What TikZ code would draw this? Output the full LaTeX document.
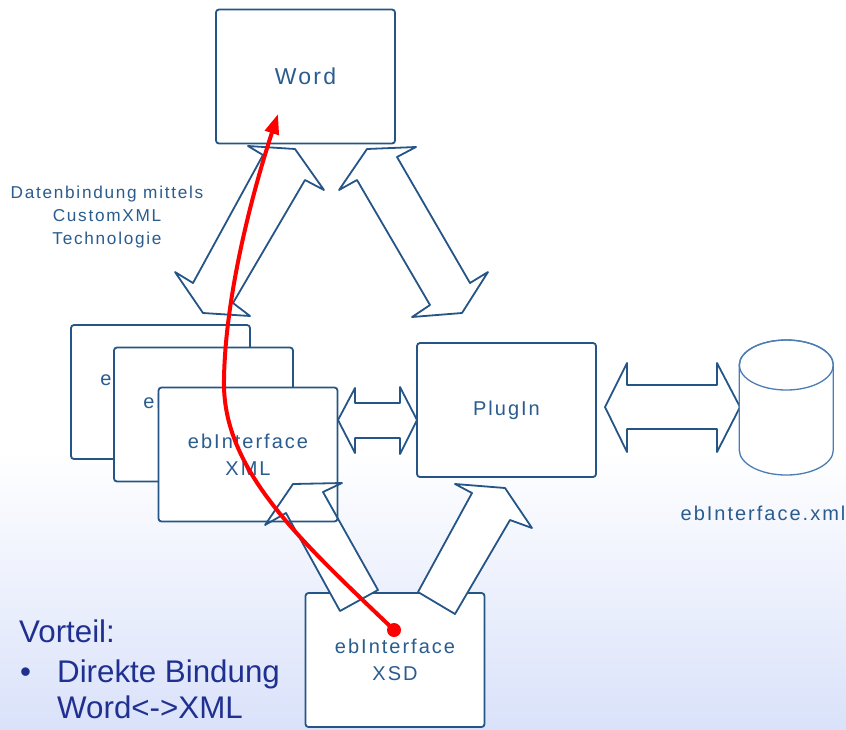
\documentclass[tikz,border=0pt]{standalone}
\usepackage{fontspec}
\setmainfont{Liberation Sans}
\newfontfamily\labfont[LetterSpace=10]{Liberation Sans}
\usetikzlibrary{arrows.meta}
\definecolor{lc}{RGB}{37,85,135}
\definecolor{tc}{RGB}{42,92,142}
\definecolor{cylc}{RGB}{75,125,180}
\definecolor{bgb}{RGB}{218,226,250}
\definecolor{vt}{RGB}{32,48,145}
\newcommand\xsdArrowL{(378,590) -- (340,611) -- (286,513) -- (265,525) -- (293,484) -- (342,483) -- (323,492) -- cycle}
\newcommand\xsdArrowR{(418,592) -- (455,614) -- (510,520) -- (532,528) -- (505,488) -- (455,484) -- (472,493) -- cycle}
\begin{document}
\begin{tikzpicture}[x=1pt,y=-1pt,
  box/.style={draw=lc, fill=white, line width=1.8pt, minimum width=179pt, minimum height=134pt,
    inner sep=0pt, align=center, text=tc, font=\labfont\fontsize{20}{27}\selectfont, rounded corners=3pt},
  blockarrow/.style={draw=lc, fill=white, line width=1.8pt, line join=round},
  lab/.style={text=tc, align=center, inner sep=0pt},
  adv/.style={text=vt, anchor=base west, inner sep=0pt, font=\fontsize{31.3}{37}\selectfont},
  redline/.style={draw=red, line width=4pt, -{Triangle[length=20pt,width=14pt]}}]
\useasboundingbox (0,0) rectangle (846,729);
\fill[white] (0,0) rectangle (846,729);
\shade[top color=white, bottom color=bgb] (0,450) rectangle (846,729);

% Word
\node[box, font=\labfont\fontsize{23}{27}\selectfont] (word) at (305.5,76.5) {Word};

% double arrows under Word
\draw[blockarrow] (248,146) -- (295,149) -- (324,190) -- (305,180) -- (233,303) -- (250,316)
  -- (203,313) -- (175,272) -- (193,283) -- (263,155) -- cycle;
\draw[blockarrow] (367,149) -- (416,147) -- (397,157) -- (470,283) -- (488,272) -- (462,313)
  -- (412,317) -- (430,305) -- (357,180) -- (339,190) -- cycle;

% XSD box and its arrows (fill)
\node[box] (xsd) at (395,660) {ebInterface\\XSD};
\fill[white] \xsdArrowL;
\fill[white] \xsdArrowR;

% ebInterface XML stack
\node[box] (xmlA) at (160.5,392) {ebInterface\\XML};
\node[box] (xmlB) at (203.5,414.5) {ebInterface\\XML};
\node[box] (xmlC) at (248,454.5) {ebInterface\\XML};

% XSD arrows (outline)
\draw[blockarrow, fill=none] \xsdArrowL;
\draw[blockarrow, fill=none] \xsdArrowR;

% PlugIn
\node[box] (plugin) at (506.5,410) {PlugIn};

% horizontal double arrows
\draw[blockarrow] (338,420) -- (355,388) -- (355,403) -- (400,403) -- (400,387) -- (417,420)
  -- (400,454) -- (400,438) -- (355,438) -- (355,453) -- cycle;
\draw[blockarrow] (605,407) -- (627,363) -- (627,385) -- (717,385) -- (717,363) -- (740,407)
  -- (717,452) -- (717,429) -- (627,429) -- (627,452) -- cycle;

% cylinder
\draw[cylc, line width=1.3pt, fill=white] (739.3,365) -- (739.3,450)
  arc[start angle=180, end angle=0, x radius=47, y radius=25] -- (833.3,365)
  arc[start angle=0, end angle=-180, x radius=47, y radius=25] -- cycle;
\draw[cylc, line width=1.3pt] (786.3,365) ellipse[x radius=47, y radius=25];

% labels
\node[lab, font=\labfont\fontsize{17.2}{23}\selectfont] (note) at (107,217)
  {Datenbindung mittels\\CustomXML\\Technologie};
\node[lab, font=\labfont\fontsize{20}{27}\selectfont] (xmlfile) at (763,513) {ebInterface.xml};

\node[adv] (vorteil) at (19,642) {Vorteil:};
\node[adv] (bullet) at (20,682) {•};
\node[adv] (direkt) at (57,682) {Direkte Bindung};
\node[adv] (wordxml) at (57,718) {Word<->XML};

% red connector
\coordinate (dotp) at (394,630);
\coordinate (wtip) at (278,114);
\draw[redline] (dotp) .. controls (300,540) and (222,470) .. (224,380)
  .. controls (225,300) and (250,200) .. (wtip);
\fill[red] (dotp) circle (7);
\end{tikzpicture}
\end{document}
